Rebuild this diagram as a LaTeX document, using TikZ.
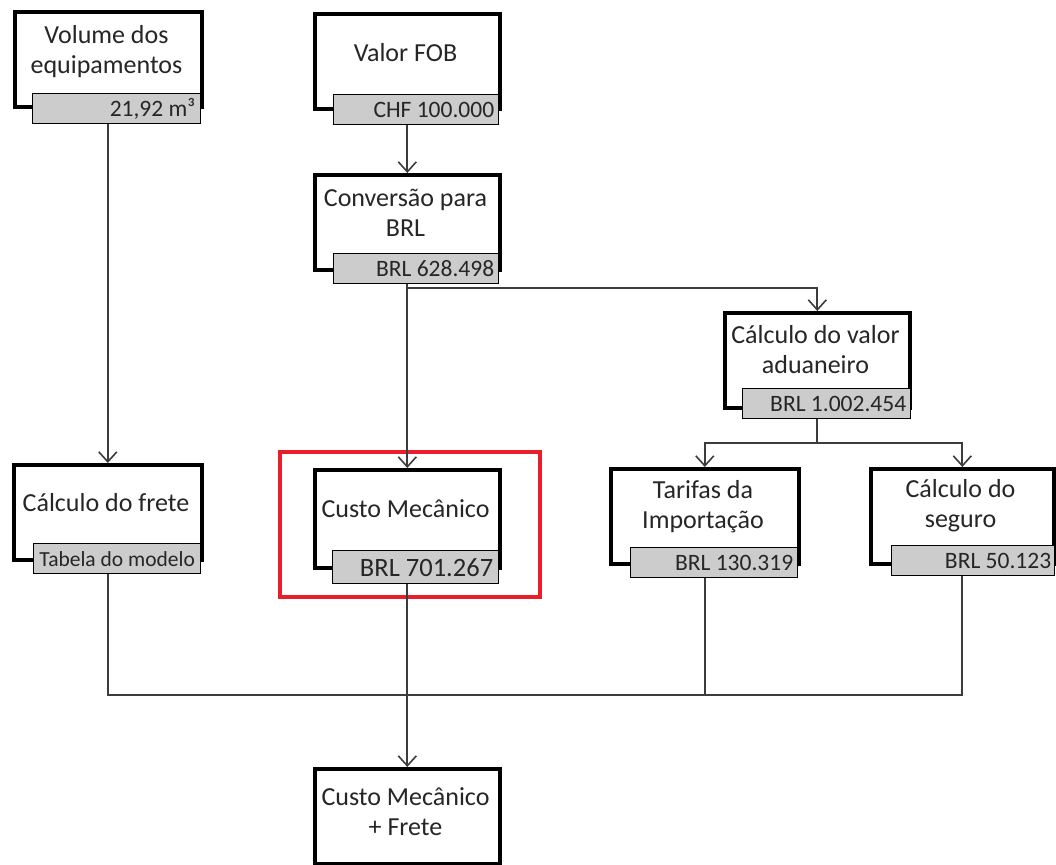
\documentclass[tikz,border=0pt]{standalone}
\usepackage{fontspec}
\setmainfont{Carlito}
\usetikzlibrary{arrows.meta,calc}
\definecolor{tagfill}{RGB}{204,204,204}
\definecolor{wire}{RGB}{60,60,60}
\definecolor{ink}{RGB}{38,38,38}
\definecolor{hilite}{RGB}{232,30,40}
\tikzset{
  blockbox/.style={draw=black, line width=3.6pt, fill=white, anchor=north west,
    minimum width=185pt, minimum height=95pt, inner sep=0pt},
  title/.style={text=ink, align=center, font=\fontsize{26}{30}\selectfont, inner sep=0pt},
  tagbox/.style={draw=black, line width=1.4pt, fill=tagfill, anchor=north west,
    minimum width=166pt, minimum height=30pt, inner sep=0pt},
  tagtext/.style={text=ink, anchor=east, font=\fontsize{23.5}{28}\selectfont, inner sep=0pt},
  link/.style={draw=wire, line width=1.8pt},
  flow/.style={link, -{Straight Barb[length=10pt, width=18pt, line width=1.6pt]}},
}
\begin{document}
\begin{tikzpicture}[x=1pt, y=-1pt]
\useasboundingbox (0,0) rectangle (1056,864);

% blocks: frame, caption, value tag
\node[blockbox, minimum width=187pt] (b1) at (13,10) {};
\node[tagbox, minimum width=168pt] (b1v) at (32,93) {};
\node[tagtext] at ($(b1v.east)+(-6,0)$) {21,92 m³};
\node[title] (b1t) at (106.5,51.5) {Volume dos\\equipamentos};

\node[blockbox] (b2) at (313,12) {};
\node[tagbox, minimum width=165pt] (b2v) at (333,94) {};
\node[title] (b2t) at (405.5,53) {Valor FOB};

\node[blockbox] (b3) at (313,173) {};
\node[tagbox, minimum width=165pt] (b3v) at (333,253) {};
\node[title] (b3t) at (405.5,213) {Conversão para\\BRL};

\node[blockbox] (b4) at (723,311) {};
\node[tagbox, minimum width=168pt] (b4v) at (742,388) {};
\node[title] (b4t) at (815.5,350) {Cálculo do valor\\aduaneiro};

\node[blockbox, minimum width=188pt] (b5) at (12,463) {};
\node[tagbox, minimum width=167pt] (b5v) at (33,543) {};
\node[title] (b5t) at (106,503) {Cálculo do frete};

\node[blockbox, minimum height=98pt] (b6) at (313,468) {};
\node[tagbox, minimum width=166pt, minimum height=33pt] (b6v) at (332,550) {};
\node[title] (b6t) at (405.5,509) {Custo Mecânico};

\node[blockbox, minimum width=188pt] (b7) at (609,467) {};
\node[tagbox, minimum width=167pt] (b7v) at (630,547) {};
\node[title] (b7t) at (703,507) {Tarifas da\\Importação};

\node[blockbox, minimum width=183pt] (b8) at (869,467) {};
\node[tagbox, minimum width=163pt] (b8v) at (891,545) {};
\node[title] (b8t) at (960.5,506) {Cálculo do\\seguro};

\node[blockbox] (b9) at (313,767) {};
\node[title] (b9t) at (405.5,812) {Custo Mecânico\\+ Frete};

% value labels
\node[tagtext] at ($(b2v.east)+(-5,0)$) {CHF 100.000};
\node[tagtext] at ($(b3v.east)+(-5,0)$) {BRL 628.498};
\node[tagtext] at ($(b4v.east)+(-5,0)$) {BRL 1.002.454};
\node[text=ink, font=\fontsize{21.5}{24}\selectfont, inner sep=0pt] at (b5v.center) {Tabela do modelo};
\node[tagtext, font=\fontsize{26.5}{30}\selectfont] at ($(b6v.east)+(-6,0)$) {BRL 701.267};
\node[tagtext] at ($(b7v.east)+(-5,0)$) {BRL 130.319};
\node[tagtext] at ($(b8v.east)+(-4,0)$) {BRL 50.123};

% highlight around the mechanical cost
\node[draw=hilite, line width=4pt, anchor=north west, minimum width=260pt,
  minimum height=145pt, inner sep=0pt] (hl) at (278,450) {};

% connectors
\coordinate (split1) at (0,288);
\coordinate (split2) at (0,443);
\coordinate (bus) at (0,695);

\draw[flow] (b1v.south -| b5.north) -- (b5.north);
\draw[flow] (b2v.south -| b3.north) -- (b3.north);
\draw[flow] (b3v.south -| b6.north) -- (b6.north);
\draw[flow] (b3.north |- split1) -| (b4.north);
\draw[link] (b4v.south -| b4.north) -- (b4.north |- split2);
\draw[flow] (b4.north |- split2) -| (b7.north);
\draw[flow] (b4.north |- split2) -| (b8.north);

\draw[link] (b5v.south -| b5.north) -- (b5.north |- bus) -- (b8.north |- bus)
  -- (b8v.south -| b8.north);
\draw[link] (b7v.south -| b7.north) -- (b7.north |- bus);
\draw[flow] (b6v.south -| b6.north) -- (b9.north);
\end{tikzpicture}
\end{document}
